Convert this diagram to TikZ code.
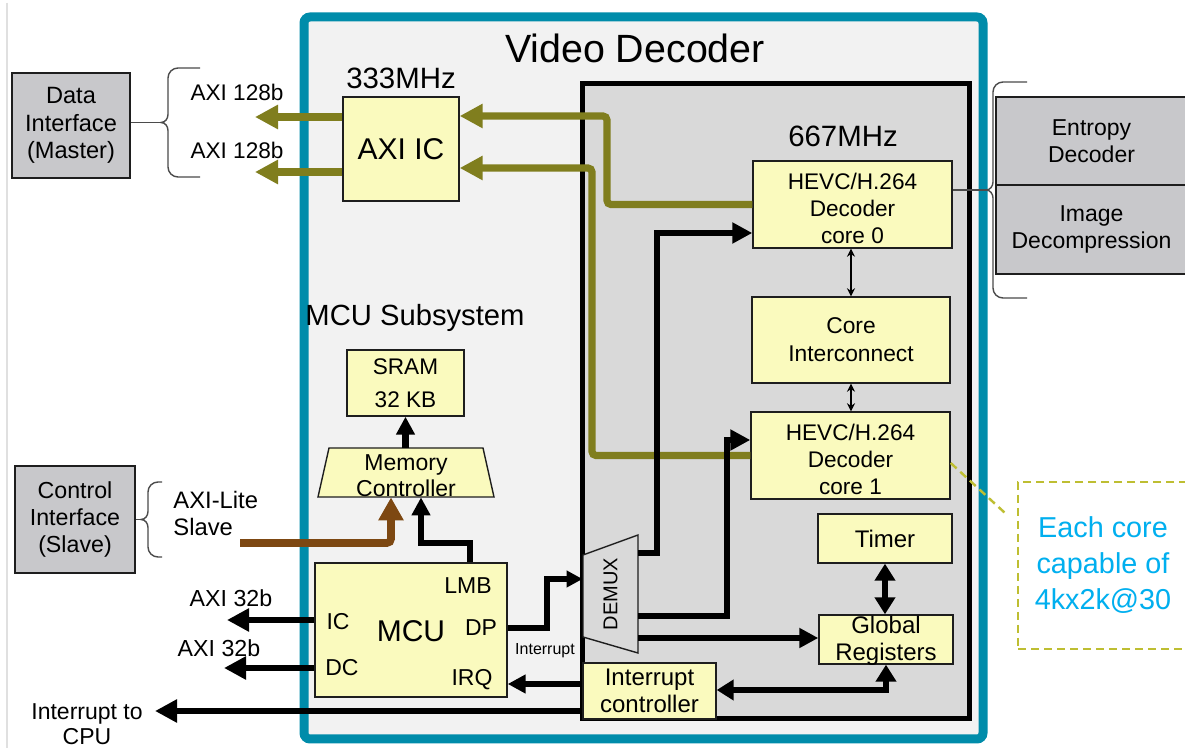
\documentclass[tikz,border=0pt]{standalone}
\usepackage{fontspec}
\setmainfont{Liberation Sans}
\usetikzlibrary{arrows.meta,positioning}
\definecolor{ink}{RGB}{30,30,30}
\definecolor{tealframe}{RGB}{0,140,170}
\definecolor{panel}{RGB}{242,242,242}
\definecolor{corepanel}{RGB}{217,217,217}
\definecolor{pale}{RGB}{250,250,190}
\definecolor{slate}{RGB}{200,200,203}
\definecolor{busgreen}{RGB}{128,126,30}
\definecolor{busbrown}{RGB}{125,72,18}
\definecolor{noteline}{RGB}{190,190,50}
\definecolor{notetext}{RGB}{0,175,239}
\newcommand{\fsz}[2]{\fontsize{#1}{#2}\selectfont}
% brace opening to the right: spine x, top y, bottom y, hook end x, tip name
\newcommand{\sidebrace}[5]{%
  \draw[braceline] (#4,#2) -- ({#1+10},#2) to[out=180,in=90] (#1,{#2+10})
    -- (#1,{(#2+#3)/2-8}) to[out=-90,in=0] ({#1-7},{(#2+#3)/2})
    to[out=0,in=90] (#1,{(#2+#3)/2+8}) -- (#1,{#3-10})
    to[out=-90,in=180] ({#1+10},#3) -- (#4,#3);
  \coordinate (#5) at ({#1-7},{(#2+#3)/2});}

\begin{document}
\begin{tikzpicture}[x=.5pt,y=-.5pt,
  box/.style={draw=ink,line width=.7pt,fill=pale,inner sep=0,align=center,font=\fsz{11.3}{13.5}},
  graybox/.style={draw=ink,line width=.7pt,fill=slate,inner sep=0,align=center,font=\fsz{11.8}{13.7}},
  bus/.style={line width=3.6pt,draw=busgreen,rounded corners=2pt,-{Triangle[length=11.5pt,width=11.5pt]}},
  ctlbus/.style={line width=3.8pt,draw=busbrown,rounded corners=2pt,-{Triangle[length=11.5pt,width=12pt]}},
  sig/.style={line width=3.2pt,draw=black,-{Triangle[length=#1,width=#1]}},sig/.default=10pt,
  dsig/.style={line width=3pt,draw=black,{Triangle[length=8.5pt,width=10pt]}-{Triangle[length=8.5pt,width=10pt]}},
  thinlink/.style={line width=.7pt,{Stealth[length=4pt,width=4pt]}-{Stealth[length=4pt,width=4pt]}},
  braceline/.style={line width=.7pt,draw=ink!80}]
\useasboundingbox[fill=white] (0,0) rectangle (1185,748);
\draw[black!12,line width=.6pt] (7,3) -- (7,748);

% frames
\draw[line width=4.5pt,draw=tealframe,fill=panel,rounded corners=3pt] (304,17) rectangle (983,739);
\draw[line width=2.5pt,fill=corepanel] (582,84) rectangle (969,719);

% blocks
\node[box,font=\fsz{15}{18},minimum width=58pt,minimum height=52pt] (axiic) at (401,149) {AXI IC};
\node[box,minimum width=99.5pt,minimum height=43.5pt] (core0) at (852.5,204.5) {};
\node[align=center,font=\fsz{11.3}{13.5}] at (852.5,208) {HEVC/H.264\\Decoder\\core 0};
\node[box,font=\fsz{11.4}{14},minimum width=99pt,minimum height=43pt] (coreic) at (851,340) {Core\\Interconnect};
\node[box,minimum width=99.5pt,minimum height=43.5pt] (core1) at (850.5,455.5) {};
\node[align=center,font=\fsz{11.3}{13.5}] at (850.5,459) {HEVC/H.264\\Decoder\\core 1};
\node[box,font=\fsz{12}{14},minimum width=67pt,minimum height=24.5pt] (timer) at (885,538.5) {Timer};
\node[box,minimum width=67pt,minimum height=24.5pt] (globreg) at (886,639.5) {};
\node[font=\fsz{12}{13.5},align=center] at (886,641) {Global\\Registers};
\node[box,font=\fsz{12}{13.5},minimum width=66.5pt,minimum height=28pt] (intctrl) at (649.5,691) {Interrupt\\controller};
\node[box,minimum width=96pt,minimum height=67pt] (mcu) at (411,630) {};
\node[box,font=\fsz{11.3}{16.5},minimum width=58.5pt,minimum height=33pt] (sram) at (405.5,383) {SRAM\\32 KB};
\draw[line width=.7pt,draw=ink,fill=pale] (329,448) -- (483,448) -- (494,497) -- (318,497) -- cycle;
\node[inner sep=0,minimum width=88pt,minimum height=24.5pt] (memctrl) at (406,472.5) {};
\node[font=\fsz{11.5}{13},align=center] at (406,476) {Memory\\Controller};
\draw[line width=.7pt,draw=ink,fill=corepanel] (583,555) -- (638,535) -- (638,653) -- (583,637) -- cycle;
\node[inner sep=0,minimum width=27.5pt,minimum height=59pt,font=\fsz{10}{12}] (demux) at (610.5,594) {\rotatebox{90}{DEMUX}};

% outside blocks
\node[graybox,minimum width=59pt,minimum height=52.5pt] (datai) at (71,125.5) {Data\\Interface\\(Master)};
\node[graybox,font=\fsz{11.6}{13.7},minimum width=60pt,minimum height=53.5pt] (ctrli) at (75,519.5) {Control\\Interface\\(Slave)};
\node[graybox,font=\fsz{11.5}{13.5},minimum width=95.5pt,minimum height=44pt] (entropy) at (1091.5,141) {Entropy\\Decoder};
\node[graybox,font=\fsz{11.5}{13.5},minimum width=95.5pt,minimum height=44.5pt] (imgdec) at (1091.5,229.5) {Image\\Decompression};
\node[draw=noteline,line width=1.2pt,dash pattern=on 4pt off 2.5pt,text=notetext,inner sep=0,align=center,
  font=\fsz{14.4}{18},minimum width=85pt,minimum height=83.5pt] (note) at (1103,565.5) {Each core\\capable of\\4kx2k@30};

% data buses
\draw[bus] (core0.west) -| (607,116) -- (axiic.east |- 0,116);
\draw[bus] (core1.west) -| (592,168) -- (axiic.east |- 0,168);
\coordinate (dout1) at (255,117);
\coordinate (dout2) at (255,172);
\draw[bus] (axiic.west |- 0,117) -- (dout1);
\draw[bus] (axiic.west |- 0,172) -- (dout2);

% control paths
\draw[sig] (demux.east |- 0,553) -| (657,233) -- (core0.west |- 0,233);
\draw[sig] (demux.east |- 0,616) -| (727,440) -- (core1.west |- 0,440);
\draw[sig=9.5pt] (demux.east |- 0,638) -- (globreg.west |- 0,638);
\draw[sig=8pt] (mcu.east |- 0,628) -| (547,579) -- (demux.west |- 0,579);
\draw[sig=9pt] (intctrl.west |- 0,684) -- node[above=8pt,font=\fsz{8}{9}] {Interrupt} (mcu.east |- 0,684);
\coordinate (cpu) at (155,711);
\draw[sig=11pt] (intctrl.west |- 0,711) -- (cpu);
\draw[dsig] (intctrl.east |- 0,690) -| (globreg.south);
\draw[dsig] (timer.south) -- (timer.south |- globreg.north);
\draw[thinlink] (coreic.north |- core0.south) -- (coreic.north);
\draw[thinlink] (coreic.south) -- (coreic.south |- core1.north);
\coordinate (axi32a) at (227,620);
\coordinate (axi32b) at (224,668);
\draw[sig=11pt] (mcu.west |- 0,620) -- (axi32a);
\draw[sig=11pt] (mcu.west |- 0,668) -- (axi32b);
\draw[sig=9pt] (mcu.north -| 470,0) -- (470,543) -| (memctrl.south -| 421,0);
\draw[sig=9pt] (memctrl.north -| sram.south) -- (sram.south);
\coordinate (alite) at (240,543);
\draw[ctlbus] (alite) -| (memctrl.south -| 391,0);

% braces
\sidebrace{168}{68}{177}{200}{dbr}
\draw[braceline] (datai.east |- dbr) -- (dbr);
\sidebrace{148}{482}{557}{162}{cbr}
\draw[braceline] (ctrli.east |- cbr) -- (cbr);
\sidebrace{993}{82}{298}{1027}{ebr}
\draw[braceline] (core0.east |- ebr) -- (ebr);
\coordinate (notetail) at (1005,513);
\draw[noteline,line width=1.2pt,dash pattern=on 4pt off 2.5pt] (core1.east |- 0,463) -- (notetail);

% labels
\node[font=\fsz{19.7}{21}] (title) at (635,48) {Video Decoder};
\node[font=\fsz{14.7}{16}] (clkaxi) at (401,78) {333MHz};
\node[font=\fsz{14.7}{16}] (clkcore) at (843,136) {667MHz};
\node[font=\fsz{14.6}{16}] (mcusub) at (415,318) {MCU Subsystem};
\node[font=\fsz{11.3}{12}] at (237,92) {AXI 128b};
\node[font=\fsz{11.3}{12}] at (237,150) {AXI 128b};
\node[font=\fsz{11.9}{13.5},align=left,anchor=west,inner sep=0] at (173,513) {AXI-Lite\\Slave};
\node[font=\fsz{11.6}{12}] at (231,598) {AXI 32b};
\node[font=\fsz{11.6}{12}] at (219,648) {AXI 32b};
\node[font=\fsz{11.5}{12.5},align=center] at (87,724) {Interrupt to\\CPU};
\node[font=\fsz{11.5}{12}] at (468,586) {LMB};
\node[font=\fsz{11.5}{12}] at (338,622) {IC};
\node[font=\fsz{15}{16}] at (411,631) {MCU};
\node[font=\fsz{11.5}{12}] at (481,628) {DP};
\node[font=\fsz{11.5}{12}] at (342,668) {DC};
\node[font=\fsz{11.5}{12}] at (472,680) {IRQ};
\end{tikzpicture}
\end{document}
